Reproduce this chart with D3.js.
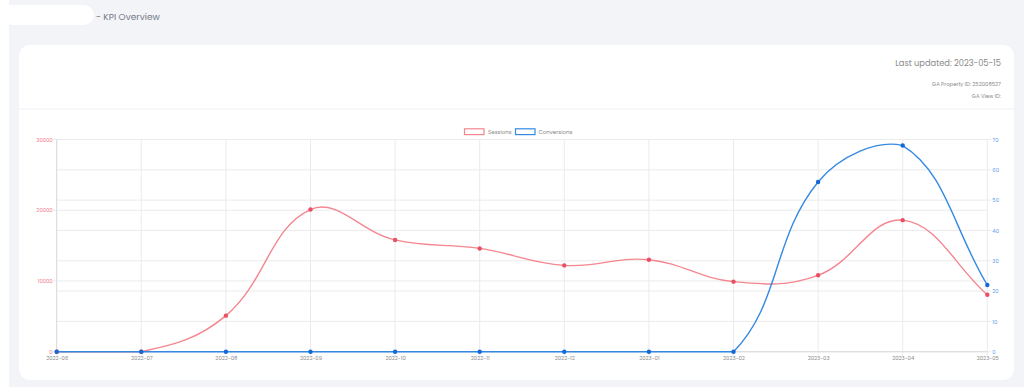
<!DOCTYPE html>
<html>
<head>
<meta charset="utf-8">
<script src="https://cdn.jsdelivr.net/npm/d3@7"></script>
<style>
  body { margin: 0; background: #f3f4f8; font-family: Poppins, "Noto Sans", Lato, sans-serif; }
  svg { display: block; }
</style>
</head>
<body>
<svg id="chart" width="1024" height="387"></svg>
<script>
// data
var months = ['2022-06', '2022-07', '2022-08', '2022-09', '2022-10', '2022-11', '2022-12', '2023-01', '2023-02', '2023-03', '2023-04', '2023-05'];
var sessions = [0, 0, 5100, 20100, 15800, 14600, 12200, 13000, 9900, 10800, 18600, 8050];
var conversions = [0, 0, 0, 0, 0, 0, 0, 0, 0, 56, 68, 22];
var leftTicks = [0, 10000, 20000, 30000];
var rightTicks = [0, 10, 20, 30, 40, 50, 60, 70];

var svg = d3.select('#chart');
var area = {l: 56.7, r: 987.3, t: 139.5, b: 351.7};

var redLine = '#f4868f', redPoint = '#ea4f63';
var blueLine = '#3489e3', bluePoint = '#1469d9';

// page pieces
svg.append('rect').attr('x', 0).attr('y', 0).attr('width', 9).attr('height', 387).attr('fill', '#ffffff');
svg.append('rect').attr('x', 2).attr('y', 5).attr('width', 92).attr('height', 20).attr('rx', 10).attr('fill', '#ffffff');
svg.append('text').attr('x', 96).attr('y', 19.5).attr('font-size', 9).attr('fill', '#737986').text('- KPI Overview');

svg.append('rect').attr('x', 19).attr('y', 45).attr('width', 995).attr('height', 335).attr('rx', 11).attr('fill', '#ffffff');
svg.append('line').attr('x1', 19).attr('x2', 1014).attr('y1', 109).attr('y2', 109).attr('stroke', '#f0f1f4');

var header = svg.append('g').attr('text-anchor', 'end').attr('fill', '#8a8a8a');
header.append('text').attr('x', 1001).attr('y', 66).attr('font-size', 8.3).text('Last updated: 2023-05-15');
header.append('text').attr('x', 1001).attr('y', 85.5).attr('font-size', 5.3).text('GA Property ID: 252008527');
header.append('text').attr('x', 1001).attr('y', 97.5).attr('font-size', 5.3).text('GA View ID:');

// scales
var x = d3.scalePoint().domain(months).range([area.l, area.r]);
var yL = d3.scaleLinear().domain([0, 30000]).range([area.b, area.t]);
var yR = d3.scaleLinear().domain([0, 70]).range([area.b, area.t]);

// grid
var grid = svg.append('g').attr('stroke', '#ebebeb').attr('stroke-width', 1);
grid.selectAll('.gx').data(months).enter().append('line')
    .attr('x1', function(d) { return x(d); }).attr('x2', function(d) { return x(d); })
    .attr('y1', area.t).attr('y2', area.b + 4);
grid.selectAll('.gl').data(leftTicks).enter().append('line')
    .attr('x1', area.l - 4).attr('x2', area.r).attr('y1', function(d) { return yL(d); }).attr('y2', function(d) { return yL(d); });
grid.selectAll('.gr').data(rightTicks).enter().append('line')
    .attr('x1', area.l).attr('x2', area.r + 4).attr('y1', function(d) { return yR(d); }).attr('y2', function(d) { return yR(d); });
svg.append('line').attr('x1', area.l).attr('x2', area.l).attr('y1', area.t).attr('y2', area.b).attr('stroke', '#dcdcdc');
svg.append('line').attr('x1', area.l).attr('x2', area.r).attr('y1', area.b).attr('y2', area.b).attr('stroke', '#dcdcdc');

// axes
var xAxis = d3.axisBottom(x).tickSize(0).tickPadding(5);
var leftAxis = d3.axisLeft(yL).tickValues(leftTicks).tickSize(0).tickPadding(4).tickFormat(d3.format('d'));
var rightAxis = d3.axisRight(yR).tickValues(rightTicks).tickSize(0).tickPadding(5);

function styleAxis(g, color) {
    g.select('.domain').remove();
    g.selectAll('text').attr('font-family', 'Poppins, "Noto Sans", sans-serif').attr('font-size', 5.3).attr('fill', color);
}
svg.append('g').attr('transform', 'translate(0,' + area.b + ')').call(xAxis).call(styleAxis, '#8a8a8a');
svg.append('g').attr('transform', 'translate(' + area.l + ',0)').call(leftAxis).call(styleAxis, '#f17c8b');
svg.append('g').attr('transform', 'translate(' + area.r + ',0)').call(rightAxis).call(styleAxis, '#5f9ded');

// spline like the original chart tool: tension 0.4, control points kept inside the plot area
function splinePath(pts, tension) {
    var clampX = function(v) { return Math.max(area.l, Math.min(area.r, v)); };
    var clampY = function(v) { return Math.max(area.t, Math.min(area.b, v)); };
    var cps = pts.map(function(p, i) {
        var prev = pts[i - 1] || p, next = pts[i + 1] || p;
        var d01 = Math.hypot(p[0] - prev[0], p[1] - prev[1]);
        var d12 = Math.hypot(next[0] - p[0], next[1] - p[1]);
        var s01 = d01 / (d01 + d12) || 0, s12 = d12 / (d01 + d12) || 0;
        var fa = tension * s01, fb = tension * s12;
        return {
            c1: [clampX(p[0] - fa * (next[0] - prev[0])), clampY(p[1] - fa * (next[1] - prev[1]))],
            c2: [clampX(p[0] + fb * (next[0] - prev[0])), clampY(p[1] + fb * (next[1] - prev[1]))]
        };
    });
    var path = d3.path();
    path.moveTo(pts[0][0], pts[0][1]);
    for (var i = 1; i < pts.length; i++) {
        path.bezierCurveTo(cps[i - 1].c2[0], cps[i - 1].c2[1], cps[i].c1[0], cps[i].c1[1], pts[i][0], pts[i][1]);
    }
    return path.toString();
}

function drawSeries(values, yScale, lineColor, pointColor) {
    var pts = values.map(function(v, i) { return [x(months[i]), yScale(v)]; });
    svg.append('path').attr('d', splinePath(pts, 0.4))
        .attr('fill', 'none').attr('stroke', lineColor).attr('stroke-width', 1.4);
    svg.append('g').selectAll('circle').data(pts).enter().append('circle')
        .attr('cx', function(d) { return d[0]; }).attr('cy', function(d) { return d[1]; })
        .attr('r', 2.2).attr('fill', pointColor);
}
drawSeries(sessions, yL, redLine, redPoint);
drawSeries(conversions, yR, blueLine, bluePoint);

// legend
var legend = svg.append('g').attr('font-size', 5.5).attr('fill', '#8a8a8a');
legend.append('rect').attr('x', 464.5).attr('y', 128.8).attr('width', 19.5).attr('height', 5.8)
    .attr('fill', '#fff').attr('stroke', redLine).attr('stroke-width', 1.2);
legend.append('text').attr('x', 488).attr('y', 133.5).text('Sessions');
legend.append('rect').attr('x', 515.5).attr('y', 128.8).attr('width', 19.5).attr('height', 5.8)
    .attr('fill', '#fff').attr('stroke', blueLine).attr('stroke-width', 1.2);
legend.append('text').attr('x', 538.5).attr('y', 133.5).text('Conversions');
</script>
</body>
</html>
